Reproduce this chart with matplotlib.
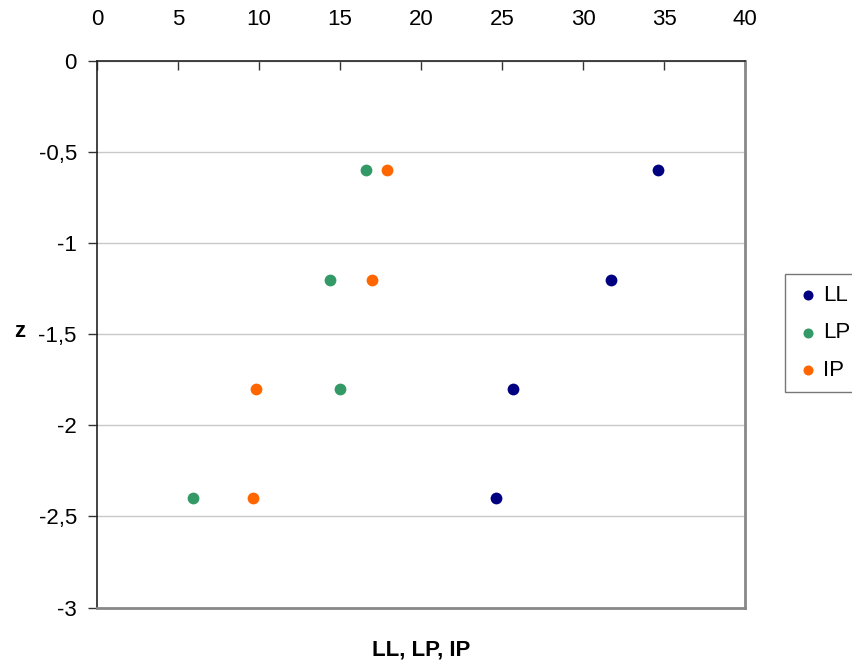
import matplotlib
matplotlib.use("Agg")
import matplotlib.pyplot as plt
from matplotlib.ticker import FuncFormatter, MultipleLocator

plt.rcParams['font.family'] = ['Liberation Sans', 'DejaVu Sans']

# данные
z = [-0.6, -1.2, -1.8, -2.4]
ll = [34.6, 31.7, 25.7, 24.6]
lp = [16.6, 14.4, 15.0, 5.9]
ip = [17.9, 17.0, 9.8, 9.6]

series = [("LL", ll, "#000080"), ("LP", lp, "#339966"), ("IP", ip, "#FF6600")]

fs = 16

fig = plt.figure(figsize=(8.53, 6.64), dpi=100)
ax = fig.add_axes([97 / 853, 1 - 607.5 / 664, 648 / 853, 546.5 / 664])

for name, vals, col in series:
    ax.scatter(vals, z, s=72, color=col, label=name, zorder=3, linewidths=0)

ax.set_xlim(0, 40)
ax.set_ylim(-3, 0)
ax.xaxis.set_major_locator(MultipleLocator(5))
ax.yaxis.set_major_locator(MultipleLocator(0.5))
ax.yaxis.set_major_formatter(FuncFormatter(lambda v, p: ("%g" % v).replace(".", ",")))

ax.xaxis.tick_top()
ax.tick_params(axis='x', direction='in', length=6.5, width=1, pad=22, labelsize=fs, color='#333333')
ax.tick_params(axis='y', direction='out', length=6.5, width=1, pad=8, labelsize=fs, color='#333333')

ax.grid(axis='y', color='#c8c8c8', linewidth=1)
ax.set_axisbelow(True)

for s in ['top', 'left']:
    ax.spines[s].set_color('#222222')
    ax.spines[s].set_linewidth(1.2)
for s in ['right', 'bottom']:
    ax.spines[s].set_color('#888888')
    ax.spines[s].set_linewidth(2)

ax.set_ylabel('z', rotation=0, fontsize=fs, fontweight='bold', ha='center', va='center')
ax.yaxis.set_label_coords((20 - 97) / 648, (607.5 - 331) / 546.5)
fig.text(421 / 853, 1 - 650 / 664, 'LL, LP, IP', fontsize=fs, fontweight='bold',
         ha='center', va='center')

leg = ax.legend(loc='center left', bbox_to_anchor=(785 / 853, 1 - 333 / 664),
                bbox_transform=fig.transFigure, fontsize=fs, frameon=True, fancybox=False,
                handletextpad=0.1, handlelength=1.1, borderpad=0.5, labelspacing=0.75,
                borderaxespad=0, markerscale=0.85)
leg.get_frame().set_edgecolor('#555555')
leg.get_frame().set_linewidth(1)

fig.savefig("out.png", dpi=100)
